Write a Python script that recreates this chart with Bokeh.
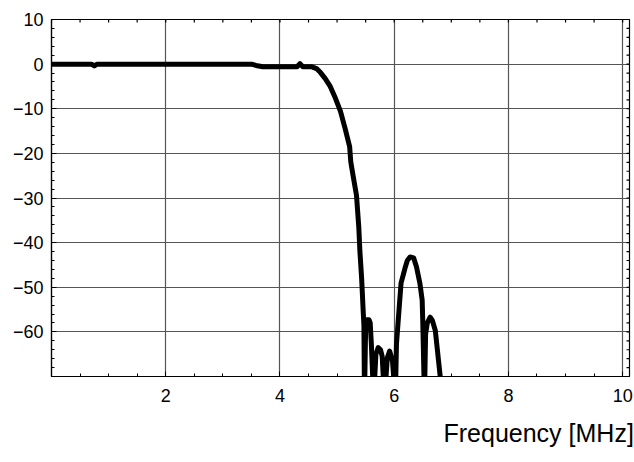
import math
from bokeh.plotting import figure
from bokeh.models import LinearAxis, FixedTicker, Grid, Range1d, Title
from bokeh.embed import file_html
from bokeh.resources import INLINE

# Frequency response (MHz, dB)
freq_mhz = [0.00, 0.70, 0.75, 0.80, 3.50, 3.58, 3.70, 4.30, 4.35, 4.40, 4.56, 4.64,
            4.71, 4.79, 4.88, 4.97, 5.06, 5.14, 5.22, 5.24, 5.29, 5.34, 5.38, 5.40,
            5.43, 5.46, 5.47, 5.48, 5.50, 5.52, 5.56, 5.58, 5.60, 5.64, 5.68, 5.72,
            5.76, 5.79, 5.83, 5.88, 5.92, 5.97, 6.02, 6.04, 6.08, 6.12, 6.19, 6.23,
            6.28, 6.34, 6.39, 6.45, 6.49, 6.50, 6.53, 6.55, 6.58, 6.63, 6.67, 6.72,
            6.81]
gain_db = [0.0, 0.0, -0.4, 0.0, 0.0, -0.3, -0.6, -0.6, 0.1, -0.6, -0.6, -1.0,
           -1.9, -3.2, -5.0, -7.6, -10.6, -14.4, -18.5, -21.9, -25.7, -29.4, -36.5, -42.0,
           -48.0, -56.0, -58.5, -75.0, -59.0, -57.3, -57.3, -58.0, -62.7, -75.0, -65.0, -63.5,
           -64.0, -65.5, -75.0, -65.8, -64.3, -66.5, -75.0, -62.7, -55.9, -49.1, -45.7, -44.0,
           -43.2, -43.4, -45.4, -49.1, -52.9, -57.4, -75.0, -60.5, -58.0, -56.7, -57.5, -59.7,
           -70.5]

x_major = [2, 4, 6, 8, 10]
x_minor = [i * 0.5 for i in range(0, 21)]
y_major = [10, 0, -10, -20, -30, -40, -50, -60]
y_minor = list(range(-70, 11, 2))
y_labels = {v: (str(v) if v >= 0 else "\u2212" + str(-v)) for v in y_major}

X_MIN, X_MAX = 0, 10.12
Y_MIN, Y_MAX = -70, 10
FONT = "Liberation Sans"

p = figure(width=634, height=462,
           x_range=Range1d(X_MIN, X_MAX), y_range=Range1d(Y_MIN, Y_MAX),
           x_axis_type=None, y_axis_type=None,
           output_backend="svg", toolbar_location=None,
           min_border_left=51, min_border_right=5, min_border_top=19, min_border_bottom=86,
           outline_line_color="black", outline_line_width=1.2,
           background_fill_color="white", border_fill_color="white")

# grids
p.add_layout(Grid(dimension=0, ticker=FixedTicker(ticks=x_major),
                  grid_line_color="#555555", grid_line_width=1.2), "center")
p.add_layout(Grid(dimension=1, ticker=FixedTicker(ticks=y_major),
                  grid_line_color="#555555", grid_line_width=1.2), "center")


def style(ax):
    ax.axis_line_color = "black"
    ax.axis_line_width = 1.2
    ax.major_tick_in = 5
    ax.major_tick_out = 0
    ax.minor_tick_in = 3
    ax.minor_tick_out = 0
    ax.major_tick_line_color = "black"
    ax.minor_tick_line_color = "black"
    ax.major_label_text_font = FONT
    ax.major_label_text_font_size = "18px"
    ax.major_label_text_color = "black"


left = LinearAxis(ticker=FixedTicker(ticks=y_major, minor_ticks=y_minor),
                  major_label_overrides=y_labels)
style(left)
left.major_label_standoff = 8
p.add_layout(left, "left")

bottom = LinearAxis(ticker=FixedTicker(ticks=x_major, minor_ticks=x_minor))
style(bottom)
bottom.major_label_standoff = 12
p.add_layout(bottom, "below")

# inward ticks on top and right edges (half of each dash is clipped by the frame)
p.scatter(x_minor, [Y_MAX] * len(x_minor), marker="dash", size=6, angle=math.pi / 2,
          line_color="black", line_width=1.2)
p.scatter([X_MAX] * len(y_minor), y_minor, marker="dash", size=6,
          line_color="black", line_width=1.2)

p.line(freq_mhz, gain_db, line_color="black", line_width=5,
       line_join="round", line_cap="round")

p.add_layout(Title(text="Frequency [MHz]", align="left", offset=392,
                   text_font=FONT, text_font_size="25px", text_font_style="normal",
                   text_line_height=1.0, vertical_align="top",
                   text_color="black", standoff=28), "below")

open("out.html", "w").write(file_html(p, INLINE))
